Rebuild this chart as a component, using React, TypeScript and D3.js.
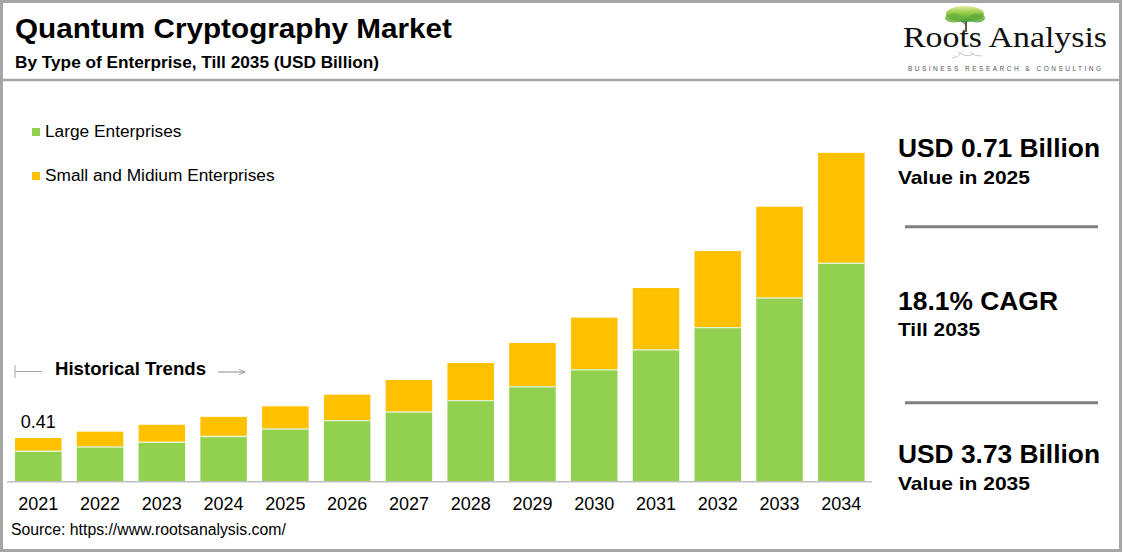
import React from 'react';
import * as d3 from 'd3';

const years = ['2021','2022','2023','2024','2025','2026','2027','2028','2029','2030','2031','2032','2033','2034'];
const largeEnterprises = [0.29,0.33,0.375,0.43,0.50,0.58,0.66,0.77,0.90,1.06,1.25,1.46,1.74,2.07];
const smallMidEnterprises = [0.12,0.14,0.16,0.18,0.21,0.24,0.30,0.35,0.41,0.49,0.58,0.72,0.86,1.04];
const seriesNames = ['Large Enterprises', 'Small and Midium Enterprises'];
const seriesColors = ['#92D050', '#FFC000'];
const firstLabel = '0.41';
const stats = [
  { big: 'USD 0.71 Billion', small: 'Value in 2025' },
  { big: '18.1% CAGR', small: 'Till 2035' },
  { big: 'USD 3.73 Billion', small: 'Value in 2035' },
];

const W = 1123, H = 553;
const FONT = '"Liberation Sans", Arial, sans-serif';
const statBigY = [157, 310, 463];
const statSmallY = [183.5, 336, 489.5];
const statBigLen = [202, 160, 202];
const statSmallLen = [132, 82, 132];

export default function App() {
  const rows = years.map((y, i) => ({ year: y, large: largeEnterprises[i], sme: smallMidEnterprises[i] }));
  const stacked = d3.stack<any>().keys(['large', 'sme'])(rows);
  const x = d3.scaleBand().domain(years).range([7, 872.6]).paddingInner(0.247).paddingOuter(0.13);
  const baseY = 481.3;
  const y = d3.scaleLinear().domain([0, 3.2]).range([baseY, baseY - 3.2 * 105.6]);

  return (
    <div style={{ position: 'fixed', left: 0, top: 0 }}>
      <svg width={W} height={H} style={{ display: 'block', background: '#fff' }}>
        <defs>
          <linearGradient id="canopy" x1="0" y1="0" x2="0" y2="1">
            <stop offset="0%" stopColor="#e0eb9a" />
            <stop offset="50%" stopColor="#8cc63f" />
            <stop offset="100%" stopColor="#3f9a3a" />
          </linearGradient>
          <marker id="arr" viewBox="0 0 10 10" refX="9" refY="5" markerWidth="7" markerHeight="7" orient="auto">
            <path d="M0,1 L9,5 L0,9" fill="none" stroke="#8c8c8c" strokeWidth="1.2" />
          </marker>
        </defs>
        {/* outer border */}
        <rect x={1.5} y={1.5} width={1119} height={549} fill="none" stroke="#a6a6a6" strokeWidth={3} />
        <line x1={1} x2={1121} y1={80} y2={80} stroke="#a6a6a6" strokeWidth={2.5} />

        {/* title */}
        <text x={15} y={38} fontFamily={FONT} fontWeight="bold" fontSize={28.5} fill="#000" textLength={437} lengthAdjust="spacingAndGlyphs">Quantum Cryptography Market</text>
        <text x={15} y={68} fontFamily={FONT} fontWeight="bold" fontSize={16.2} fill="#000" textLength={364} lengthAdjust="spacingAndGlyphs">By Type of Enterprise, Till 2035 (USD Billion)</text>

        {/* logo */}
        <g>
          <path d="M966,32 L966,18" stroke="#6b5a3a" strokeWidth={2} />
          <path d="M966,23 L957,17 M966,21 L975,15 M966,25 L960,20" stroke="#6b5a3a" strokeWidth={1} />
          <ellipse cx={965} cy={14} rx={19} ry={8} fill="url(#canopy)" />
          <ellipse cx={954} cy={18} rx={9} ry={4.5} fill="#6fb23f" opacity={0.85} />
          <ellipse cx={977} cy={18} rx={8} ry={4.5} fill="#5fae3c" opacity={0.85} />
          <text x={903} y={47} fontFamily='"Liberation Serif", "DejaVu Serif", serif' fontSize={29.5} fill="#111" textLength={204} lengthAdjust="spacingAndGlyphs">Roots Analysis</text>
          <path d="M958,52 q8,6 16,2 M962,52 q-4,6 -10,6 M970,52 q5,5 12,4" stroke="#bbb" strokeWidth={0.8} fill="none" />
          <text x={908} y={71} fontFamily={FONT} fontSize={6.5} fill="#555" textLength={193} lengthAdjust="spacing">BUSINESS RESEARCH &amp; CONSULTING</text>
        </g>

        {/* legend */}
        {seriesNames.map((n, i) => (
          <g key={n}>
            <rect x={32} y={128 + i * 44} width={8} height={8} fill={seriesColors[i]} />
            <text x={45} y={137 + i * 44} fontFamily={FONT} fontSize={17.3} fill="#000">{n}</text>
          </g>
        ))}

        {/* historical trends */}
        <line x1={15} x2={15} y1={365} y2={378} stroke="#a6a6a6" strokeWidth={1} />
        <line x1={15} x2={42} y1={371.5} y2={371.5} stroke="#a6a6a6" strokeWidth={1} />
        <text x={55} y={375} fontFamily={FONT} fontWeight="bold" fontSize={18.5} fill="#000" textLength={151} lengthAdjust="spacingAndGlyphs">Historical Trends</text>
        <line x1={218} x2={245} y1={372} y2={372} stroke="#8c8c8c" strokeWidth={1} markerEnd="url(#arr)" />

        {/* bars */}
        {stacked.map((s, si) => (
          <g key={si}>
            {s.map((d, i) => (
              <rect key={i} x={x(years[i])} y={y(d[1])} width={x.bandwidth()} height={y(d[0]) - y(d[1])} fill={seriesColors[si]} />
            ))}
          </g>
        ))}
        {stacked[0].map((d, i) => (
          <line key={'g' + i} x1={x(years[i])} x2={(x(years[i]) as number) + x.bandwidth()} y1={y(d[1]) + 0.6} y2={y(d[1]) + 0.6} stroke="#e4f2cf" strokeWidth={1.3} />
        ))}
        <line x1={7} x2={872} y1={baseY + 0.5} y2={baseY + 0.5} stroke="#bfbfbf" strokeWidth={1.5} />
        <text x={(x(years[0]) as number) + x.bandwidth() / 2} y={427.5} textAnchor="middle" fontFamily={FONT} fontSize={18} fill="#000">{firstLabel}</text>
        {years.map((yr) => (
          <text key={yr} x={(x(yr) as number) + x.bandwidth() / 2} y={510} textAnchor="middle" fontFamily={FONT} fontSize={18} fill="#000">{yr}</text>
        ))}

        <text x={11} y={535} fontFamily={FONT} fontSize={15.8} fill="#000">Source: https://www.rootsanalysis.com/</text>

        {/* right panel */}
        {stats.map((s, i) => (
          <g key={i}>
            <text x={898} y={statBigY[i]} fontFamily={FONT} fontWeight="bold" fontSize={25} fill="#000" textLength={statBigLen[i]} lengthAdjust="spacingAndGlyphs">{s.big}</text>
            <text x={898} y={statSmallY[i]} fontFamily={FONT} fontWeight="bold" fontSize={18.5} fill="#000" textLength={statSmallLen[i]} lengthAdjust="spacingAndGlyphs">{s.small}</text>
          </g>
        ))}
        <line x1={905} x2={1098} y1={226.7} y2={226.7} stroke="#808080" strokeWidth={3} />
        <line x1={905} x2={1098} y1={402.7} y2={402.7} stroke="#808080" strokeWidth={3} />
      </svg>
    </div>
  );
}
